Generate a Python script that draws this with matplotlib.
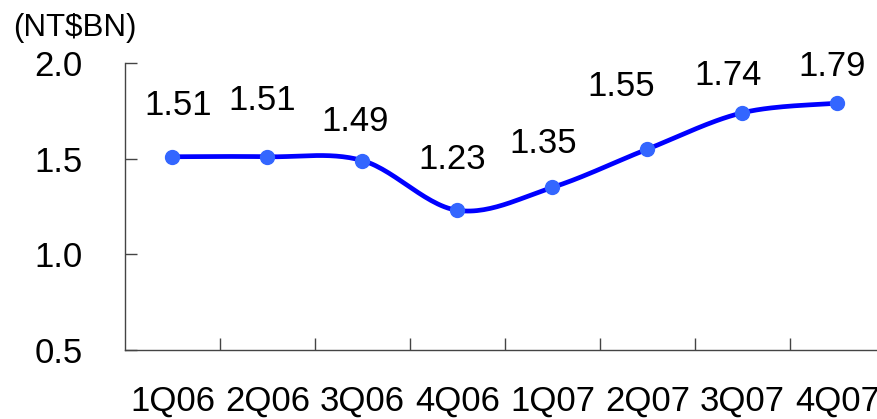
import numpy as np
import matplotlib
matplotlib.use("Agg")
import matplotlib.pyplot as plt

categories = ["1Q06", "2Q06", "3Q06", "4Q06", "1Q07", "2Q07", "3Q07", "4Q07"]
values = [1.51, 1.51, 1.49, 1.23, 1.35, 1.55, 1.74, 1.79]
labels = ["1.51", "1.51", "1.49", "1.23", "1.35", "1.55", "1.74", "1.79"]
yticks = [0.5, 1.0, 1.5, 2.0]
ytick_labels = ["0.5", "1.0", "1.5", "2.0"]
unit_label = "(NT$BN)"

# label offsets in pixels (dx, dy up)
label_offsets = [(6, 51), (-5, 56), (-7, 39), (-5, 51), (-9, 44), (-26, 63), (-14, 37), (-5, 37)]

plt.rcParams['font.family'] = ['Liberation Sans', 'DejaVu Sans']

W, H, DPI = 878, 419, 100
PT = 72 / DPI
fig = plt.figure(figsize=(W / DPI, H / DPI), dpi=DPI)
ax = fig.add_axes([125 / W, 69 / H, 760 / W, 287 / H])

x = np.arange(len(values))
y = np.array(values, dtype=float)

# Catmull-Rom smoothing (like Excel's smoothed line)
def catmull_rom(px, py, n=30):
    P = np.column_stack([px, py])
    P = np.vstack([P[0], P, P[-1]])
    out = []
    for i in range(1, len(P) - 2):
        p0, p1, p2, p3 = P[i - 1], P[i], P[i + 1], P[i + 2]
        t = np.linspace(0, 1, n)[:, None]
        seg = 0.5 * ((2 * p1) + (-p0 + p2) * t + (2 * p0 - 5 * p1 + 4 * p2 - p3) * t ** 2
                     + (-p0 + 3 * p1 - 3 * p2 + p3) * t ** 3)
        out.append(seg if i == len(P) - 3 else seg[:-1])
    out = np.vstack(out)
    return out[:, 0], out[:, 1]

sx, sy = catmull_rom(x.astype(float), y)
ax.plot(sx, sy, color="#0000FF", lw=3.4, solid_capstyle="round", zorder=2)
ax.plot(x, y, 'o', color="#3366FF", ms=10, mec="#3366FF", zorder=3)

FS = 25
for xi, yi, lab, (dx, dy) in zip(x, y, labels, label_offsets):
    ax.annotate(lab, (xi, yi), xytext=(dx * PT, dy * PT), textcoords="offset points",
                ha="center", va="center", fontsize=FS, color="black")

ax.set_xlim(-0.5, len(values) - 0.5)
ax.set_ylim(0.5, 2.0)
ax.set_yticks(yticks)
ax.set_yticklabels(ytick_labels, fontsize=FS)
ax.set_xticks(x)
ax.set_xticklabels(categories, fontsize=FS)
ax.tick_params(axis='x', length=0, pad=35 * PT)
ax.set_xticks(np.arange(0.5, len(values) - 0.5, 1.0), minor=True)
ax.tick_params(axis='x', which='minor', direction='in', length=12 * PT, width=1, color="#444444")
ax.tick_params(axis='y', direction='in', length=12 * PT, width=1, color="#444444", pad=42 * PT)

for s in ["top", "right"]:
    ax.spines[s].set_visible(False)
for s in ["left", "bottom"]:
    ax.spines[s].set_color("#444444")
    ax.spines[s].set_linewidth(1)

fig.text(13 / W, 1 - 28 / H, unit_label, fontsize=22.5, ha="left", va="center")

fig.savefig("out.png", dpi=DPI)
